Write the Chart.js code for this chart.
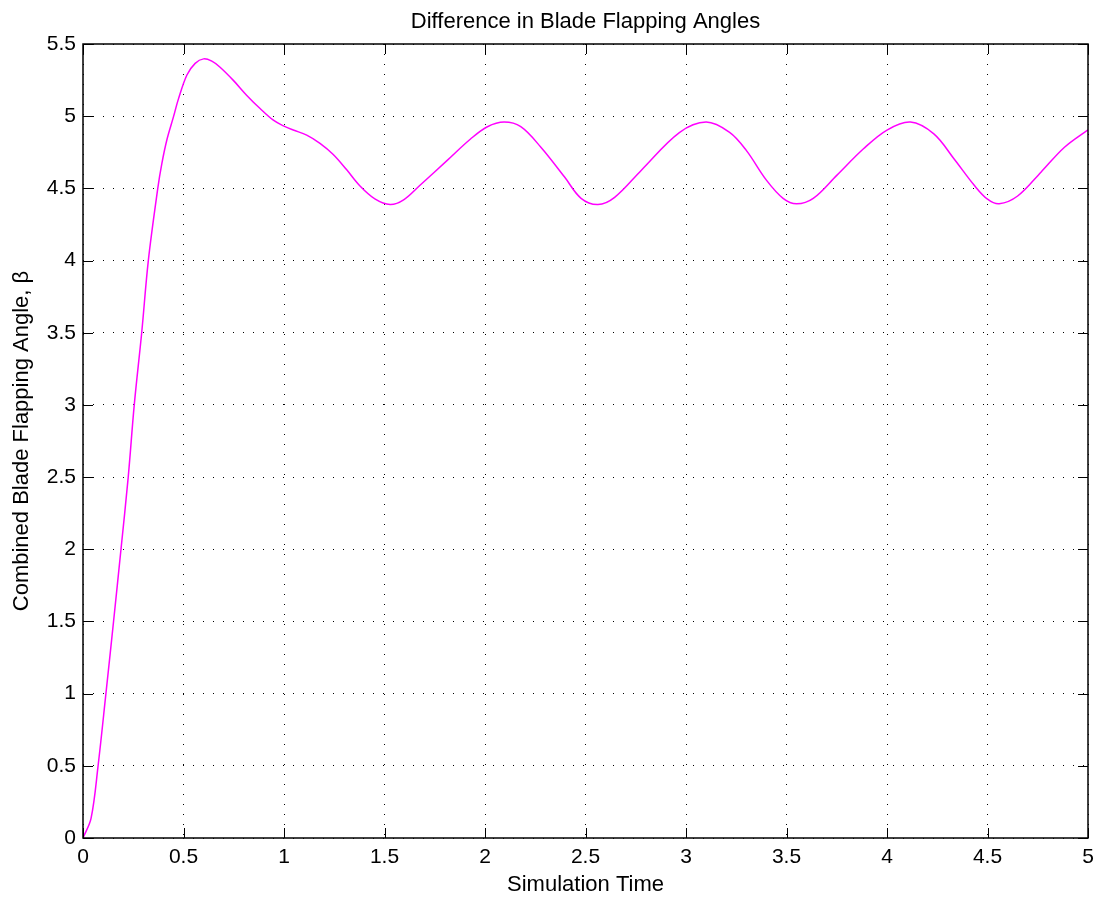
<!DOCTYPE html>
<html>
<head>
<meta charset="utf-8">
<script src="https://cdn.jsdelivr.net/npm/chart.js@4"></script>
<style>
  html, body { margin: 0; padding: 0; background: #fff; }
  canvas { display: block; }
</style>
</head>
<body>
<canvas id="c" width="1103" height="899"></canvas>
<script>
// ---- data ----
const times = [0, 0.04, 0.075, 0.114, 0.152, 0.189, 0.225, 0.255, 0.292, 0.325, 0.372, 0.392, 0.418, 0.45, 0.475, 0.517, 0.558, 0.6, 0.641, 0.682, 0.748, 0.815, 0.881, 0.947, 1.0, 1.046, 1.113, 1.179, 1.245, 1.311, 1.377, 1.452, 1.528, 1.595, 1.678, 1.812, 1.928, 2.012, 2.095, 2.178, 2.278, 2.395, 2.478, 2.562, 2.645, 2.778, 2.967, 3.1, 3.217, 3.3, 3.4, 3.483, 3.55, 3.633, 3.75, 3.883, 4.0, 4.117, 4.233, 4.333, 4.433, 4.5, 4.558, 4.65, 4.767, 4.883, 5.0];
const beta = [0, 0.136, 0.5, 1.0, 1.5, 2.0, 2.5, 3.0, 3.5, 4.0, 4.5, 4.67, 4.84, 4.995, 5.12, 5.285, 5.366, 5.397, 5.381, 5.339, 5.248, 5.144, 5.053, 4.972, 4.931, 4.904, 4.869, 4.812, 4.735, 4.63, 4.518, 4.427, 4.388, 4.42, 4.523, 4.694, 4.842, 4.927, 4.959, 4.927, 4.785, 4.58, 4.431, 4.388, 4.438, 4.626, 4.886, 4.959, 4.888, 4.763, 4.557, 4.431, 4.393, 4.43, 4.59, 4.774, 4.904, 4.959, 4.877, 4.705, 4.523, 4.425, 4.393, 4.447, 4.614, 4.785, 4.906];
const xTickValues = [0, 0.5, 1, 1.5, 2, 2.5, 3, 3.5, 4, 4.5, 5];
const xTickLabels = ['0', '0.5', '1', '1.5', '2', '2.5', '3', '3.5', '4', '4.5', '5'];
const yTickValues = [0, 0.5, 1, 1.5, 2, 2.5, 3, 3.5, 4, 4.5, 5, 5.5];
const yTickLabels = ['0', '0.5', '1', '1.5', '2', '2.5', '3', '3.5', '4', '4.5', '5', '5.5'];
const titleText = 'Difference in Blade Flapping Angles';
const xTitle = 'Simulation Time';
const yTitle = 'Combined Blade Flapping Angle, \u03B2';

const FONT = "'Liberation Sans', Arial, Helvetica, sans-serif";

function labelFor(values, labels, v) {
  const i = values.findIndex(t => Math.abs(t - v) < 1e-6);
  return i >= 0 ? labels[i] : '';
}

const boxPlugin = {
  id: 'matlabBox',
  afterDatasetsDraw(chart) {
    const ctx = chart.ctx;
    const { left, right, top, bottom } = chart.chartArea;
    const xs = chart.scales.x, ys = chart.scales.y;
    const tl = 10;
    ctx.save();
    ctx.strokeStyle = '#000';
    ctx.lineWidth = 1;
    ctx.beginPath();
    xTickValues.forEach(v => {
      const px = Math.round(xs.getPixelForValue(v)) + 0.5;
      ctx.moveTo(px, bottom); ctx.lineTo(px, bottom - tl);
      ctx.moveTo(px, top); ctx.lineTo(px, top + tl);
    });
    yTickValues.forEach(v => {
      const py = Math.round(ys.getPixelForValue(v)) + 0.5;
      ctx.moveTo(left, py); ctx.lineTo(left + tl, py);
      ctx.moveTo(right, py); ctx.lineTo(right - tl, py);
    });
    ctx.stroke();
    ctx.lineWidth = 1.5;
    ctx.strokeRect(left, top, right - left, bottom - top);
    ctx.restore();
  }
};

new Chart(document.getElementById('c'), {
  type: 'line',
  data: {
    datasets: [{
      data: times.map((t, i) => ({ x: t, y: beta[i] })),
      borderColor: '#FF00FF',
      borderWidth: 1.5,
      pointRadius: 0,
      fill: false,
      tension: 0.35,
      xAxisID: 'x',
      yAxisID: 'y'
    }]
  },
  options: {
    responsive: false,
    animation: false,
    events: [],
    layout: { padding: { left: 0, right: 15, top: 0, bottom: 0 } },
    plugins: {
      legend: { display: false },
      tooltip: { enabled: false },
      title: { display: false }
    },
    scales: {
      x: {
        type: 'linear',
        position: 'bottom',
        min: 0, max: 5,
        afterFit: s => { s.height = 61; },
        afterBuildTicks: s => { s.ticks = xTickValues.map(v => ({ value: v })); },
        ticks: {
          color: '#000',
          font: { family: FONT, size: 21 },
          padding: 7,
          maxRotation: 0,
          autoSkip: false,
          callback: v => labelFor(xTickValues, xTickLabels, v)
        },
        grid: { color: '#000', lineWidth: 1, drawTicks: false },
        border: { display: false, dash: [1, 9] },
        title: {
          display: true,
          text: xTitle,
          color: '#000',
          font: { family: FONT, size: 22 },
          padding: { top: 0, bottom: 1 }
        }
      },
      xTop: {
        type: 'linear',
        position: 'top',
        min: 0, max: 5,
        afterFit: s => { s.height = 44; },
        ticks: { display: false },
        grid: { display: false, drawTicks: false },
        border: { display: false },
        title: {
          display: true,
          text: titleText,
          color: '#000',
          font: { family: FONT, size: 22 },
          padding: { top: 9, bottom: 0 }
        }
      },
      y: {
        type: 'linear',
        min: 0, max: 5.5,
        afterFit: s => { s.width = 83; },
        afterBuildTicks: s => { s.ticks = yTickValues.map(v => ({ value: v })); },
        ticks: {
          color: '#000',
          font: { family: FONT, size: 21 },
          padding: 7,
          autoSkip: false,
          callback: v => labelFor(yTickValues, yTickLabels, v)
        },
        grid: { color: '#000', lineWidth: 1, drawTicks: false },
        border: { display: false, dash: [1, 9] },
        title: {
          display: true,
          text: yTitle,
          color: '#000',
          font: { family: FONT, size: 22 },
          padding: { top: 9, bottom: 0 }
        }
      }
    }
  },
  plugins: [boxPlugin]
});
</script>
</body>
</html>
